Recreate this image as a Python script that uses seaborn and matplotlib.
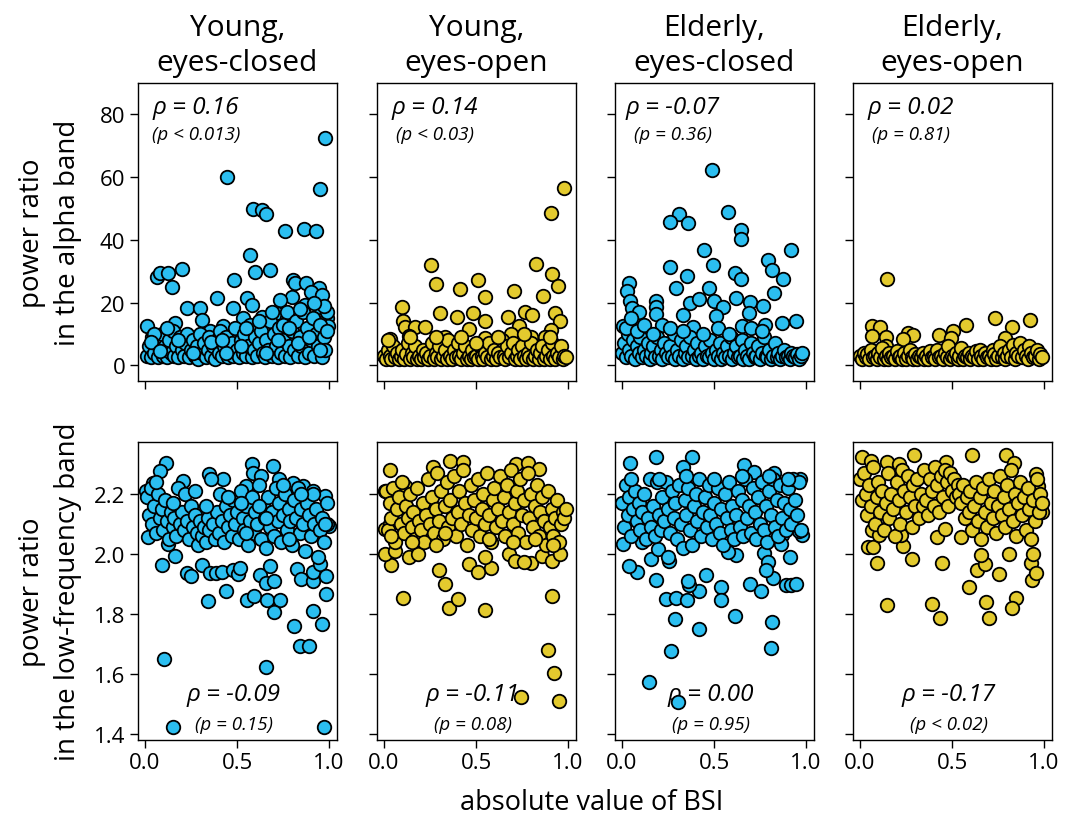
import matplotlib
matplotlib.use("Agg")
import matplotlib.pyplot as plt
import seaborn as sns
import pandas as pd

sns.set_style("white")
plt.rcParams['font.family'] = ['Open Sans', 'DejaVu Sans']
plt.rcParams['text.color'] = 'black'
plt.rcParams['axes.labelcolor'] = 'black'
plt.rcParams['xtick.color'] = 'black'
plt.rcParams['ytick.color'] = 'black'

# ---------------- data ----------------
conditions = ["Young,\neyes-closed", "Young,\neyes-open", "Elderly,\neyes-closed", "Elderly,\neyes-open"]
cond_colors = ["#2BBEF0", "#E3CA2E", "#2BBEF0", "#E3CA2E"]

rho_alpha = ["ρ = 0.16", "ρ = 0.14", "ρ = -0.07", "ρ = 0.02"]
p_alpha = ["(p < 0.013)", "(p < 0.03)", "(p = 0.36)", "(p = 0.81)"]
rho_low = ["ρ = -0.09", "ρ = -0.11", "ρ = 0.00", "ρ = -0.17"]
p_low = ["(p = 0.15)", "(p = 0.08)", "(p = 0.95)", "(p < 0.02)"]

alpha_ticks = [0, 20, 40, 60, 80]
low_ticks = [1.4, 1.6, 1.8, 2.0, 2.2]
x_ticks = [0.0, 0.5, 1.0]

yc_alpha = [(0.98,72.6),(0.447,59.9),(0.949,56.2),(0.588,49.9),(0.633,49.6),(0.656,48.2),(0.76,42.9),(0.862,43.3),(0.931,42.9),(0.573,35.1),(0.597,29.8),(0.678,30.3),(0.483,27.2),(0.063,28.2),(0.081,29.5),(0.127,29.5),(0.203,30.7),(0.145,24.9),(0.392,21.4),(0.23,18.2),(0.298,18.2),(0.479,18.2),(0.552,21.6),(0.579,19.2),(0.805,27.2),(0.814,26.1),(0.876,26.4),(0.945,24.8),(0.796,21.9),(0.904,23.5),(0.964,22.4),(0.732,20.8),(0.868,19.2),(0.949,18.7),(0.009,12.4),(0.163,13.4),(0.307,14.5),(0.353,10.8),(0.425,12.4),(0.533,15.0),(0.633,15.5),(0.714,16.6),(0.769,15.0),(0.986,15.0),(0.995,12.4),(0.986,17.1),
    (0.01,3),(0.02,6),(0.03,2.5),(0.04,9),(0.05,4),(0.06,7),(0.07,2.5),(0.08,5),(0.09,10),(0.10,3),(0.11,6),(0.12,2.5),(0.13,8),(0.14,4),(0.15,11),(0.16,3),(0.17,6),(0.18,2.5),(0.19,9),(0.20,5),(0.21,3),(0.22,7),(0.23,10),(0.24,2.5),(0.25,5),(0.26,8),(0.27,3),(0.28,6),(0.29,2),(0.30,10),(0.31,4),(0.32,7),(0.33,2.5),(0.34,5),(0.35,9),(0.36,3),(0.37,6),(0.38,2),(0.39,8),(0.40,4),(0.41,11),(0.42,3),(0.43,6),(0.44,9),(0.45,2.5),(0.46,5),(0.47,7),(0.48,3),(0.49,12),(0.50,5),(0.51,2.5),(0.52,8),(0.53,4),(0.54,10),(0.55,3),(0.56,6),(0.57,13),(0.58,2.5),(0.59,5),(0.60,9),(0.61,3),(0.62,7),(0.63,11),(0.64,4),(0.65,2.5),(0.66,8),(0.67,5),(0.68,14),(0.69,3),(0.70,10),(0.71,6),(0.72,2.5),(0.73,12),(0.74,4),(0.75,8),(0.76,3),(0.77,17),(0.78,6),(0.79,2.5),(0.80,11),(0.81,5),(0.82,14),(0.83,3),(0.84,9),(0.85,6),(0.86,17),(0.87,2.5),(0.88,12),(0.89,4),(0.90,8),(0.91,15),(0.92,3),(0.93,10),(0.94,6),(0.95,13),(0.96,2.5),(0.97,9),(0.98,5),(0.99,11),(0.97,19),(0.92,20),(0.84,18),(0.75,13),(0.62,14),(0.55,12),(0.05,10),(0.12,12),(0.03,7.5),(0.08,4.5),(0.18,8),(0.26,4),(0.36,7.5),(0.44,4),(0.52,6),(0.66,4),(0.72,8),(0.83,7),(0.89,9),(0.95,5),(0.69,17),(0.78,12),(0.42,8)]

yo_alpha = [(0.976,56.4),(0.909,48.6),(0.257,31.9),(0.824,32.2),(0.915,29.0),(0.946,25.4),(0.284,25.8),(0.511,27.1),(0.411,24.2),(0.705,23.8),(0.547,21.7),(0.864,22.1),(0.098,18.7),(0.303,16.8),(0.484,16.8),(0.399,15.5),(0.674,15.5),(0.764,17.1),(0.806,15.9),(0.928,16.8),(0.955,14.0),(0.103,14.2),(0.112,12.1),(0.17,12.1),(0.225,12.1),(0.46,11.6),(0.547,14.0),(0.734,12.4),(0.909,11.1),(0.031,8.4),(0.136,9.4),(0.33,9.0),(0.547,8.7),(0.692,10.0),(0.799,8.9),(0.873,8.9),
    (0.00,3),(0.01,2),(0.02,5),(0.03,3),(0.04,2),(0.05,6),(0.06,2.5),(0.07,4),(0.08,2),(0.09,3),(0.10,5),(0.11,2),(0.12,3.5),(0.13,7),(0.14,2),(0.15,4),(0.16,2.5),(0.17,6),(0.18,2),(0.19,3),(0.20,2),(0.21,5),(0.22,2.5),(0.23,4),(0.24,2),(0.25,3),(0.26,7),(0.27,2),(0.28,4),(0.29,2.5),(0.30,6),(0.31,2),(0.32,3),(0.33,5),(0.34,2),(0.35,8),(0.36,3),(0.37,2),(0.38,5),(0.39,2.5),(0.40,7),(0.41,3),(0.42,2),(0.43,4),(0.44,6),(0.45,2),(0.46,3),(0.47,2),(0.48,5),(0.49,2.5),(0.50,3),(0.51,2),(0.52,6),(0.53,3),(0.54,2),(0.55,4),(0.56,2.5),(0.57,7),(0.58,2),(0.59,3),(0.60,5),(0.61,2),(0.62,4),(0.63,2.5),(0.64,8),(0.65,3),(0.66,2),(0.67,6),(0.68,2.5),(0.69,4),(0.70,7),(0.71,2),(0.72,3),(0.73,5),(0.74,2),(0.75,6),(0.76,3),(0.77,2),(0.78,4),(0.79,2.5),(0.80,7),(0.81,2),(0.82,3),(0.83,5),(0.84,2),(0.85,4),(0.86,6),(0.87,2),(0.88,3),(0.89,5),(0.90,2),(0.91,7),(0.92,3),(0.93,2),(0.94,4),(0.95,2.5),(0.96,6),(0.97,2),(0.98,3),(0.99,2.5),(0.02,8),(0.14,9),(0.28,9),(0.42,9),(0.5,7),(0.62,9),(0.76,10),(0.9,9)]

ec_alpha = [(0.488,62.4),(0.576,49.0),(0.311,48.3),(0.261,45.7),(0.36,45.3),(0.649,43.0),(0.645,40.4),(0.444,36.7),(0.918,36.7),(0.494,31.9),(0.261,31.4),(0.795,33.5),(0.817,30.3),(0.612,29.5),(0.649,27.4),(0.351,28.5),(0.874,27.4),(0.037,26.4),(0.027,23.8),(0.293,24.8),(0.475,24.8),(0.823,22.9),(0.046,20.6),(0.055,18.4),(0.091,17.1),(0.183,20.6),(0.183,18.7),(0.183,16.3),(0.37,20.0),(0.42,21.1),(0.499,20.6),(0.548,18.7),(0.621,21.4),(0.695,20.1),(0.691,16.8),(0.768,19.0),(0.333,16.1),(0.512,15.8),(0.945,14.0),(0.868,13.4),(0.777,12.9),(0.654,12.4),(0.216,12.7),(0.384,12.1),(0.005,12.4),
    (0.00,4),(0.01,7),(0.02,2.5),(0.03,10),(0.04,5),(0.05,3),(0.06,8),(0.07,2),(0.08,6),(0.09,4),(0.10,9),(0.11,2.5),(0.12,5),(0.13,3),(0.14,7),(0.15,2),(0.16,4),(0.17,6),(0.18,2.5),(0.19,9),(0.20,3),(0.21,5),(0.22,2),(0.23,7),(0.24,4),(0.25,2.5),(0.26,6),(0.27,3),(0.28,10),(0.29,2),(0.30,5),(0.31,3),(0.32,8),(0.33,2),(0.34,4),(0.35,6),(0.36,2.5),(0.37,9),(0.38,3),(0.39,5),(0.40,2),(0.41,7),(0.42,3),(0.43,4),(0.44,2),(0.45,6),(0.46,3),(0.47,2.5),(0.48,8),(0.49,4),(0.50,2),(0.51,5),(0.52,3),(0.53,7),(0.54,2),(0.55,4),(0.56,2.5),(0.57,6),(0.58,3),(0.59,9),(0.60,2),(0.61,4),(0.62,6),(0.63,2.5),(0.64,3),(0.65,8),(0.66,2),(0.67,5),(0.68,3),(0.69,2),(0.70,7),(0.71,4),(0.72,2.5),(0.73,3),(0.74,6),(0.75,2),(0.76,4),(0.77,9),(0.78,3),(0.79,2.5),(0.80,5),(0.81,2),(0.82,3),(0.83,7),(0.84,2.5),(0.85,4),(0.86,2),(0.87,3),(0.88,5),(0.89,2.5),(0.90,3),(0.91,2),(0.92,4),(0.93,3),(0.94,2.5),(0.95,3.5),(0.96,2),(0.97,3),(0.98,4),(0.02,12),(0.05,15),(0.08,11),(0.12,13),(0.17,10),(0.26,12),(0.33,11),(0.44,10),(0.52,12),(0.58,10),(0.7,12),(0.76,11)]

eo_alpha = [(0.149,27.4),(0.734,15.2),(0.924,14.5),(0.063,12.6),(0.109,12.1),(0.063,9.2),(0.143,9.0),(0.263,10.3),(0.288,9.7),(0.234,8.5),(0.429,9.7),(0.505,10.8),(0.578,12.7),(0.828,12.1),(0.788,8.7),(0.493,8.7),(0.139,6.3),
    (0.00,3),(0.01,2),(0.02,4),(0.03,2.5),(0.04,3.5),(0.05,2),(0.06,5),(0.07,2.5),(0.08,3),(0.09,2),(0.10,4),(0.11,2.5),(0.12,5.5),(0.13,2),(0.14,3),(0.15,2),(0.16,4),(0.17,2.5),(0.18,3),(0.19,2),(0.20,4.5),(0.21,2.5),(0.22,3),(0.23,2),(0.24,4),(0.25,2),(0.26,3),(0.27,5),(0.28,2.5),(0.29,2),(0.30,3.5),(0.31,2),(0.32,3),(0.33,2.5),(0.34,4),(0.35,2),(0.36,3),(0.37,2),(0.38,4.5),(0.39,2.5),(0.40,3),(0.41,2),(0.42,5),(0.43,2.5),(0.44,3),(0.45,2),(0.46,4),(0.47,2.5),(0.48,6),(0.49,2),(0.50,3),(0.51,2.5),(0.52,4),(0.53,2),(0.54,3),(0.55,5.5),(0.56,2),(0.57,3),(0.58,2.5),(0.59,4),(0.60,2),(0.61,3),(0.62,2.5),(0.63,4.5),(0.64,2),(0.65,5),(0.66,3),(0.67,2),(0.68,4),(0.69,2.5),(0.70,3),(0.71,2),(0.72,5),(0.73,3.5),(0.74,2),(0.75,3),(0.76,6),(0.77,2.5),(0.78,4),(0.79,2),(0.80,3),(0.81,5),(0.82,2.5),(0.83,6.5),(0.84,2),(0.85,4),(0.86,3),(0.87,7),(0.88,2.5),(0.89,5),(0.90,3),(0.91,2),(0.92,6),(0.93,4),(0.94,2.5),(0.95,3),(0.96,5),(0.97,2),(0.98,3.5),(0.99,2.5)]

yc_low = [(0.105,1.650),(0.15,1.422),(0.973,1.425),(0.656,1.623),(0.844,1.695),(0.889,1.695),(0.81,1.759),(0.964,1.767),(0.913,1.812),(0.344,1.843),(0.438,1.876),(0.555,1.846),(0.591,1.860),(0.662,1.849),(0.732,1.849),(0.702,1.807),(0.982,1.869),(0.09,1.963),(0.163,1.994),(0.226,1.938),(0.248,1.929),(0.307,1.963),(0.353,1.936),(0.385,1.936),(0.421,1.941),(0.476,1.947),(0.506,1.934),(0.515,1.955),(0.624,1.930),(0.656,1.904),(0.678,1.960),(0.702,1.912),(0.823,1.951),(0.85,1.918),(0.91,1.910),(0.913,1.940),(0.949,1.969),(0.982,1.927),(0.014,2.058),(0.127,2.036),(0.114,2.304),(0.081,2.278),(0.045,2.239),(0.004,2.211),(0.208,2.245),(0.349,2.269),(0.425,2.252),(0.579,2.30),(0.584,2.273),(0.629,2.261),(0.693,2.295),(0.73,2.252),(0.551,2.228),(0.805,2.237),(0.859,2.228),(0.91,2.213),(0.976,2.194),(1.0,2.096),(0.986,2.10),
    (0.01,2.19),(0.02,2.13),(0.03,2.22),(0.04,2.10),(0.05,2.16),(0.06,2.07),(0.07,2.20),(0.08,2.12),(0.09,2.15),(0.10,2.08),(0.11,2.18),(0.12,2.11),(0.13,2.05),(0.14,2.14),(0.15,2.09),(0.16,2.12),(0.17,2.06),(0.18,2.22),(0.19,2.10),(0.20,2.14),(0.21,2.08),(0.22,2.20),(0.23,2.11),(0.24,2.05),(0.25,2.16),(0.26,2.09),(0.27,2.13),(0.28,2.07),(0.29,2.03),(0.30,2.11),(0.31,2.06),(0.32,2.09),(0.33,2.04),(0.34,2.12),(0.35,2.08),(0.36,2.25),(0.37,2.10),(0.38,2.05),(0.39,2.14),(0.40,2.07),(0.41,2.20),(0.42,2.11),(0.43,2.04),(0.44,2.16),(0.45,2.09),(0.46,2.13),(0.47,2.06),(0.48,2.18),(0.49,2.10),(0.50,2.14),(0.51,2.05),(0.52,2.21),(0.53,2.12),(0.54,2.08),(0.55,2.16),(0.56,2.03),(0.57,2.11),(0.58,2.19),(0.59,2.07),(0.60,2.14),(0.61,2.10),(0.62,2.23),(0.63,2.05),(0.64,2.16),(0.65,2.12),(0.66,2.02),(0.67,2.19),(0.68,2.09),(0.69,2.14),(0.70,2.06),(0.71,2.22),(0.72,2.11),(0.73,2.17),(0.74,2.04),(0.75,2.13),(0.76,2.20),(0.77,2.08),(0.78,2.15),(0.79,2.11),(0.80,2.03),(0.81,2.18),(0.82,2.12),(0.83,2.22),(0.84,2.07),(0.85,2.15),(0.86,2.10),(0.87,2.01),(0.88,2.17),(0.89,2.13),(0.90,2.06),(0.91,2.20),(0.92,2.10),(0.93,2.15),(0.94,1.99),(0.95,2.08),(0.96,2.12),(0.97,2.04),(0.98,2.10),(0.99,2.17),(0.06,2.24),(0.15,2.17),(0.27,2.21),(0.45,2.19),(0.52,2.17),(0.62,2.16),(0.75,2.23),(0.85,2.20),(0.55,2.07),(0.66,2.12),(0.78,2.05),(0.33,2.16)]

yo_low = [(0.949,1.510),(0.924,1.605),(0.891,1.679),(0.746,1.522),(0.915,1.860),(0.547,1.815),(0.353,1.821),(0.402,1.851),(0.103,1.854),(0.33,1.902),(0.299,1.949),(0.462,1.968),(0.511,1.941),(0.583,1.955),(0.547,1.990),(0.04,1.963),(0.004,2.001),(0.062,2.010),(0.134,1.990),(0.185,2.001),(0.679,2.001),(0.71,1.979),(0.801,1.971),(0.76,1.975),(0.859,1.994),(0.91,1.977),(0.955,2.001),(0.031,2.281),(0.357,2.312),(0.429,2.309),(0.719,2.300),(0.783,2.304),(0.842,2.286),(0.266,2.293),(0.004,2.213),(0.063,2.220),(0.112,2.228),(0.004,2.086),(0.031,2.102),
    (0.01,2.21),(0.02,2.08),(0.03,2.17),(0.04,2.12),(0.05,2.22),(0.06,2.04),(0.07,2.15),(0.08,2.19),(0.09,2.10),(0.10,2.24),(0.11,2.07),(0.12,2.16),(0.13,2.12),(0.14,2.20),(0.15,2.09),(0.16,2.14),(0.17,2.05),(0.18,2.22),(0.19,2.11),(0.20,2.08),(0.21,2.17),(0.22,2.04),(0.23,2.13),(0.24,2.25),(0.25,2.10),(0.26,2.19),(0.27,2.07),(0.28,2.15),(0.29,2.27),(0.30,2.11),(0.31,2.21),(0.32,2.05),(0.33,2.16),(0.34,2.24),(0.35,2.09),(0.36,2.18),(0.37,2.12),(0.38,2.26),(0.39,2.06),(0.40,2.14),(0.41,2.21),(0.42,2.10),(0.43,2.28),(0.44,2.17),(0.45,2.03),(0.46,2.13),(0.47,2.23),(0.48,2.08),(0.49,2.18),(0.50,2.12),(0.51,2.25),(0.52,2.06),(0.53,2.15),(0.54,2.20),(0.55,2.10),(0.56,2.27),(0.57,2.13),(0.58,2.04),(0.59,2.18),(0.60,2.22),(0.61,2.09),(0.62,2.15),(0.63,2.26),(0.64,2.11),(0.65,2.19),(0.66,2.06),(0.67,2.23),(0.68,2.14),(0.69,2.28),(0.70,2.10),(0.71,2.17),(0.72,2.21),(0.73,2.07),(0.74,2.25),(0.75,2.13),(0.76,2.18),(0.77,2.04),(0.78,2.27),(0.79,2.12),(0.80,2.20),(0.81,2.09),(0.82,2.16),(0.83,2.23),(0.84,2.06),(0.85,2.14),(0.86,2.19),(0.87,2.11),(0.88,2.03),(0.89,2.21),(0.90,2.09),(0.91,2.15),(0.92,2.06),(0.93,2.12),(0.94,2.18),(0.95,2.04),(0.96,2.10),(0.97,2.14),(0.98,2.12),(0.99,2.15),(0.04,2.06),(0.15,2.04),(0.28,2.03),(0.33,2.07),(0.57,2.05),(0.70,2.04),(0.82,2.05),(0.92,2.03)]

ec_low = [(0.146,1.575),(0.302,1.508),(0.265,1.676),(0.81,1.687),(0.817,1.774),(0.42,1.751),(0.289,1.785),(0.612,1.795),(0.238,1.851),(0.293,1.854),(0.353,1.846),(0.42,1.876),(0.366,1.899),(0.36,1.91),(0.457,1.930),(0.539,1.890),(0.536,1.849),(0.698,1.902),(0.753,1.876),(0.819,1.921),(0.892,1.899),(0.918,1.899),(0.947,1.901),(0.183,1.915),(0.082,1.941),(0.04,1.960),(0.155,1.985),(0.197,2.017),(0.256,1.977),(0.248,1.99),(0.914,1.991),(0.771,2.006),(0.795,1.975),(0.782,1.947),(0.618,1.997),(0.576,2.007),(0.004,2.033),(0.11,2.041),(0.046,2.304),(0.183,2.326),(0.38,2.326),(0.333,2.291),(0.662,2.297),(0.717,2.276),(0.828,2.270),(0.965,2.252),(0.978,2.063),(0.963,2.077),(0.868,2.066),(0.863,2.033),
    (0.00,2.17),(0.01,2.09),(0.02,2.23),(0.03,2.13),(0.04,2.19),(0.05,2.06),(0.06,2.15),(0.07,2.21),(0.08,2.11),(0.09,2.17),(0.10,2.08),(0.11,2.14),(0.12,2.20),(0.13,2.05),(0.14,2.12),(0.15,2.25),(0.16,2.09),(0.17,2.16),(0.18,2.06),(0.19,2.24),(0.20,2.13),(0.21,2.08),(0.22,2.19),(0.23,2.11),(0.24,2.24),(0.25,2.15),(0.26,2.07),(0.27,2.21),(0.28,2.12),(0.29,2.17),(0.30,2.05),(0.31,2.23),(0.32,2.10),(0.33,2.02),(0.34,2.18),(0.35,2.13),(0.36,2.22),(0.37,2.08),(0.38,2.03),(0.39,2.16),(0.40,2.20),(0.41,2.11),(0.42,2.25),(0.43,2.06),(0.44,2.14),(0.45,2.19),(0.46,2.09),(0.47,2.23),(0.48,2.13),(0.49,2.05),(0.50,2.17),(0.51,2.10),(0.52,2.22),(0.53,2.07),(0.54,2.15),(0.55,2.03),(0.56,2.20),(0.57,2.12),(0.58,2.24),(0.59,2.08),(0.60,2.16),(0.61,2.05),(0.62,2.13),(0.63,2.21),(0.64,2.09),(0.65,2.18),(0.66,2.06),(0.67,2.25),(0.68,2.12),(0.69,2.16),(0.70,2.07),(0.71,2.22),(0.72,2.14),(0.73,2.05),(0.74,2.19),(0.75,2.10),(0.76,2.24),(0.77,2.08),(0.78,2.16),(0.79,2.04),(0.80,2.21),(0.81,2.13),(0.82,2.25),(0.83,2.09),(0.84,2.18),(0.85,2.06),(0.86,2.23),(0.87,2.12),(0.88,2.17),(0.89,2.08),(0.90,2.22),(0.91,2.15),(0.92,2.10),(0.93,2.25),(0.94,2.18),(0.95,2.13),(0.96,2.24),(0.97,2.08),(0.05,2.25),(0.20,2.25),(0.35,2.26),(0.50,2.25),(0.65,2.26),(0.80,2.26),(0.90,2.25)]

eo_low = [(0.149,1.830),(0.389,1.834),(0.433,1.789),(0.683,1.840),(0.701,1.789),(0.85,1.854),(0.828,1.821),(0.592,1.890),(0.755,1.934),(0.634,1.946),(0.679,1.968),(0.656,1.999),(0.81,2.001),(0.928,1.971),(0.933,1.913),(0.958,1.938),(0.94,2.002),(0.094,1.971),(0.281,1.986),(0.447,1.971),(0.045,2.025),(0.07,2.025),(0.234,2.027),(0.221,2.063),(0.547,2.058),(0.42,2.058),(0.462,2.083),(0.063,2.080),(0.103,2.063),(0.009,2.326),(0.293,2.331),(0.607,2.331),(0.795,2.331),(0.149,2.309),(0.212,2.300),(0.466,2.309),(0.058,2.313),(0.837,2.306),(0.955,2.267),(0.969,2.228),(0.987,2.141),
    (0.00,2.25),(0.01,2.18),(0.02,2.27),(0.03,2.20),(0.04,2.13),(0.05,2.23),(0.06,2.16),(0.07,2.29),(0.08,2.10),(0.09,2.19),(0.10,2.24),(0.11,2.14),(0.12,2.21),(0.13,2.08),(0.14,2.17),(0.15,2.27),(0.16,2.12),(0.17,2.20),(0.18,2.15),(0.19,2.06),(0.20,2.24),(0.21,2.18),(0.22,2.10),(0.23,2.28),(0.24,2.21),(0.25,2.14),(0.26,2.26),(0.27,2.19),(0.28,2.09),(0.29,2.23),(0.30,2.16),(0.31,2.25),(0.32,2.12),(0.33,2.20),(0.34,2.16),(0.35,2.28),(0.36,2.18),(0.37,2.13),(0.38,2.25),(0.39,2.21),(0.40,2.16),(0.41,2.29),(0.42,2.23),(0.43,2.14),(0.44,2.26),(0.45,2.19),(0.46,2.28),(0.47,2.24),(0.48,2.16),(0.49,2.27),(0.50,2.21),(0.51,2.25),(0.52,2.19),(0.53,2.23),(0.54,2.20),(0.55,2.17),(0.56,2.23),(0.57,2.12),(0.58,2.19),(0.59,2.14),(0.60,2.21),(0.61,2.08),(0.62,2.16),(0.63,2.24),(0.64,2.11),(0.65,2.19),(0.66,2.05),(0.67,2.22),(0.68,2.14),(0.69,2.09),(0.70,2.25),(0.71,2.17),(0.72,2.12),(0.73,2.21),(0.74,2.07),(0.75,2.16),(0.76,2.26),(0.77,2.13),(0.78,2.19),(0.79,2.09),(0.80,2.23),(0.81,2.15),(0.82,2.28),(0.83,2.11),(0.84,2.20),(0.85,2.06),(0.86,2.17),(0.87,2.24),(0.88,2.13),(0.89,2.19),(0.90,2.08),(0.91,2.22),(0.92,2.15),(0.93,2.05),(0.94,2.18),(0.95,2.11),(0.96,2.25),(0.97,2.14),(0.98,2.20),(0.99,2.17)]

alpha_sets = [yc_alpha, yo_alpha, ec_alpha, eo_alpha]
low_sets = [yc_low, yo_low, ec_low, eo_low]

# ---------------- layout ----------------
W, H = 1071, 828
fig = plt.figure(figsize=(W / 100, H / 100), dpi=100)
lefts = [138, 377, 615, 853]
pw = 199
rows = [(84, 382), (443, 741)]

def frac(l, t, b):
    return [l / W, 1 - b / H, pw / W, (b - t) / H]

txt_family = ['Open Sans', 'DejaVu Sans']

for r, (sets, ylim, yticks, rhos, ps) in enumerate([
        (alpha_sets, (-5, 90), alpha_ticks, rho_alpha, p_alpha),
        (low_sets, (1.38, 2.375), low_ticks, rho_low, p_low)]):
    t, b = rows[r]
    for c in range(4):
        ax = fig.add_axes(frac(lefts[c], t, b))
        df = pd.DataFrame(sets[c], columns=["bsi", "power"])
        sns.scatterplot(data=df, x="bsi", y="power", ax=ax, color=cond_colors[c],
                        s=95, edgecolor="black", linewidth=1.3, zorder=3, legend=False)
        ax.set_xlim(-0.038, 1.043)
        ax.set_ylim(*ylim)
        ax.set_xticks(x_ticks)
        ax.set_yticks(yticks)
        ax.set_xlabel("")
        ax.set_ylabel("")
        for sp in ax.spines.values():
            sp.set_visible(True)
            sp.set_color("black")
            sp.set_linewidth(1.0)
        ax.tick_params(axis="both", direction="out", length=6, width=1,
                       colors="black", labelsize=16, pad=3,
                       bottom=True, left=True)
        if r == 0:
            ax.set_xticklabels([])
        else:
            ax.set_xticklabels(["0.0", "0.5", "1.0"])
        if c == 0:
            ax.set_yticklabels([str(v) for v in yticks])
        else:
            ax.set_yticklabels([])
        if r == 0:
            ax.set_title(conditions[c], fontsize=21.5, pad=9, linespacing=1.3, color="black")
            ax.text(0.29, 0.92, rhos[c], transform=ax.transAxes, ha="center", va="center",
                    fontsize=17.5, style="italic", family=txt_family, zorder=1)
            ax.text(0.29, 0.83, ps[c], transform=ax.transAxes, ha="center", va="center",
                    fontsize=13.5, style="italic", family=txt_family, zorder=1)
        else:
            ax.text(0.48, 0.155, rhos[c], transform=ax.transAxes, ha="center", va="center",
                    fontsize=17.5, style="italic", family=txt_family, zorder=1)
            ax.text(0.48, 0.055, ps[c], transform=ax.transAxes, ha="center", va="center",
                    fontsize=13.5, style="italic", family=txt_family, zorder=1)

fig.text(50 / W, 1 - 233 / H, "power ratio\nin the alpha band", rotation=90,
         ha="center", va="center", fontsize=20, multialignment="center", linespacing=1.35)
fig.text(50 / W, 1 - 592 / H, "power ratio\nin the low-frequency band", rotation=90,
         ha="center", va="center", fontsize=20, multialignment="center", linespacing=1.35)
fig.text(592 / W, 1 - 803 / H, "absolute value of BSI", ha="center", va="center", fontsize=19.5)

fig.savefig("out.png", dpi=100)
